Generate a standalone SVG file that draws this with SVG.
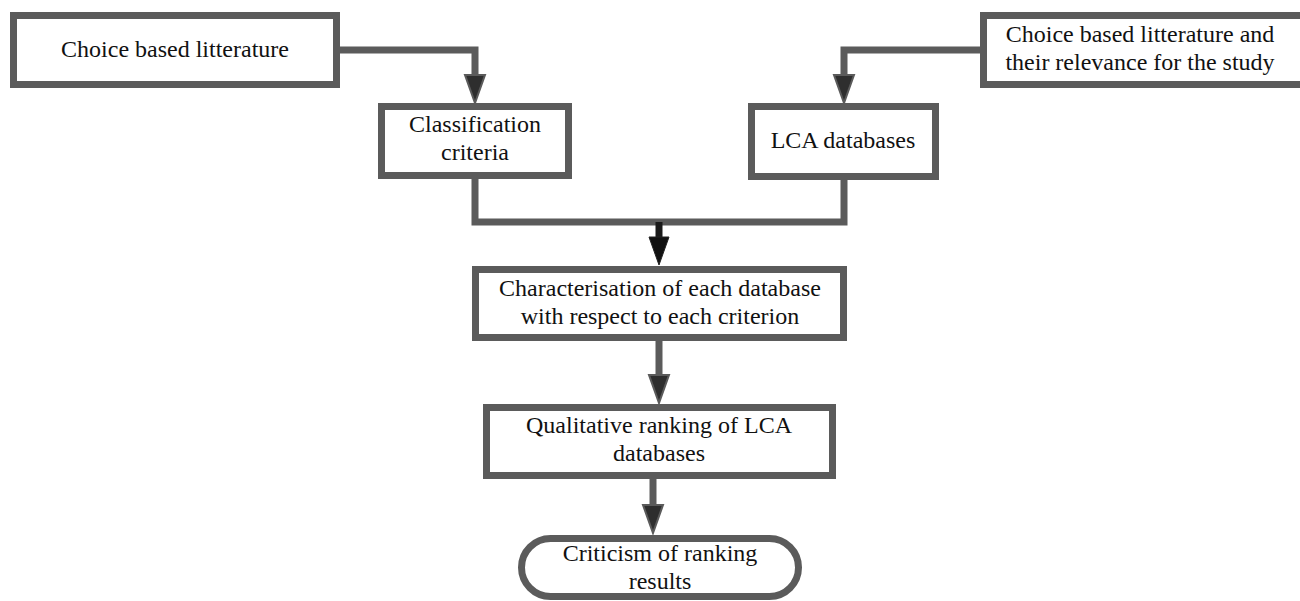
<svg xmlns="http://www.w3.org/2000/svg" width="1300" height="601" viewBox="0 0 1300 601">
  <style>
    .box { fill: #ffffff; stroke: #5b5b5b; stroke-width: 7; }
    .lbl { font-family: "Liberation Serif", "Times New Roman", serif; font-size: 24px; fill: #111111; text-anchor: middle; }
    .con { fill: none; stroke: #5b5b5b; stroke-width: 7; }
  </style>
  <defs>
    <marker id="arr" markerUnits="userSpaceOnUse" markerWidth="28" markerHeight="22" refX="0" refY="11" orient="auto" overflow="visible">
      <path d="M0,1 L28,11 L0,21 z" fill="#2e2e2e" stroke="#5b5b5b" stroke-width="2"/>
    </marker>
    <marker id="arrB" markerUnits="userSpaceOnUse" markerWidth="28" markerHeight="22" refX="0" refY="11" orient="auto" overflow="visible">
      <path d="M0,1 L28,11 L0,21 z" fill="#111111" stroke="#222222" stroke-width="1"/>
    </marker>
  </defs>
  <rect width="1300" height="601" fill="#ffffff"/>

  <g id="connectors">
    <path class="con" d="M340,50 H475 V75" marker-end="url(#arr)"/>
    <path class="con" d="M980,50 H844 V75" marker-end="url(#arr)"/>
    <path class="con" d="M475,179 V222 H844 V180"/>
    <path class="con" d="M659,222 V237" style="stroke:#1a1a1a" marker-end="url(#arrB)"/>
    <path class="con" d="M659,341 V375" marker-end="url(#arr)"/>
    <path class="con" d="M653,479 V505" marker-end="url(#arr)"/>
  </g>

  <g id="node-choice">
    <rect class="box" x="13.5" y="15.5" width="323" height="69"/>
    <text class="lbl" x="175" y="57">Choice based litterature</text>
  </g>

  <g id="node-choice-relevance">
    <rect class="box" x="983.5" y="15.5" width="330" height="69"/>
    <text class="lbl" x="1140" y="42">Choice based litterature and</text>
    <text class="lbl" x="1140" y="70">their relevance for the study</text>
  </g>

  <g id="node-classification">
    <rect class="box" x="381.5" y="106.5" width="187" height="69"/>
    <text class="lbl" x="475" y="132">Classification</text>
    <text class="lbl" x="475" y="160">criteria</text>
  </g>

  <g id="node-lca">
    <rect class="box" x="751.5" y="106.5" width="184" height="70"/>
    <text class="lbl" x="843" y="148">LCA databases</text>
  </g>

  <g id="node-characterisation">
    <rect class="box" x="475.5" y="269.5" width="368" height="68"/>
    <text class="lbl" x="660" y="296">Characterisation of each database</text>
    <text class="lbl" x="660" y="324">with respect to each criterion</text>
  </g>

  <g id="node-qualitative">
    <rect class="box" x="486.5" y="407.5" width="346" height="68"/>
    <text class="lbl" x="659" y="433">Qualitative ranking of LCA</text>
    <text class="lbl" x="659" y="461">databases</text>
  </g>

  <g id="node-criticism">
    <rect class="box" x="521.5" y="538.5" width="277" height="58" rx="29" ry="29"/>
    <text class="lbl" x="660" y="561">Criticism of ranking</text>
    <text class="lbl" x="660" y="589">results</text>
  </g>
</svg>
